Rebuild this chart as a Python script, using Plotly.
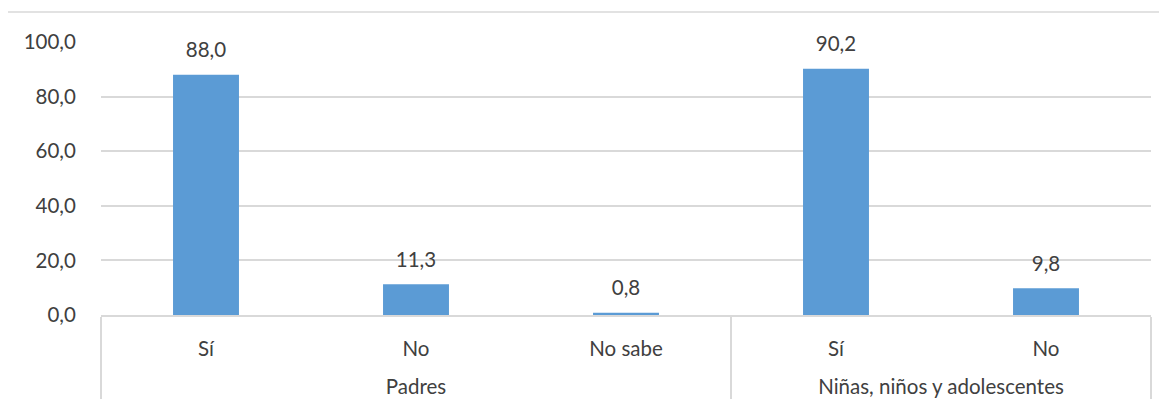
import plotly.graph_objects as go

groups = ["Padres", "Padres", "Padres", "Niñas, niños y adolescentes", "Niñas, niños y adolescentes"]
categories = ["Sí", "No", "No sabe", "Sí", "No"]
values = [88.0, 11.3, 0.8, 90.2, 9.8]
labels = ["88,0", "11,3", "0,8", "90,2", "9,8"]
y_ticks = [0, 20, 40, 60, 80, 100]

FONT = "Lato"
TXT = "#404040"
GRID = "#d9d9d9"
FS = 20.5

group_disp = ["<br>" + g for g in groups]

fig = go.Figure()
fig.add_trace(go.Bar(
    x=[group_disp, categories], y=values,
    marker=dict(color="#5b9bd5", line=dict(width=0)),
    hoverinfo="skip",
))
fig.add_trace(go.Scatter(
    x=[group_disp, categories], y=values, mode="markers+text",
    text=labels, textposition="top center",
    marker=dict(size=18, opacity=0),
    textfont=dict(family=FONT, size=FS, color=TXT),
    cliponaxis=False,
    hoverinfo="skip",
))

fig.update_layout(
    width=1167, height=415,
    margin=dict(l=93, r=24, t=34, b=108),
    paper_bgcolor="white", plot_bgcolor="white",
    showlegend=False,
    bargap=0.686,
    separators=",.",
    font=dict(family=FONT, size=FS, color=TXT),
    shapes=[dict(type="rect", xref="paper", yref="paper",
                 x0=-0.0895, x1=1.05, y0=-0.5, y1=1.1099,
                 line=dict(color=GRID, width=1.5), layer="below")],
)
fig.update_xaxes(
    type="multicategory", automargin=False,
    showline=True, linecolor=GRID, linewidth=2,
    showdividers=True, dividercolor=GRID, dividerwidth=2,
    ticks="", ticklabelstandoff=14,
    showgrid=False,
    tickfont=dict(family=FONT, size=FS, color=TXT),
)
fig.update_yaxes(
    range=[0, 100], tickvals=y_ticks, tickformat=".1f", automargin=False,
    showgrid=True, gridcolor=GRID, gridwidth=1.5,
    zeroline=False, showline=False,
    ticks="outside", ticklen=20, tickcolor="rgba(0,0,0,0)",
    tickfont=dict(family=FONT, size=FS, color=TXT),
)

fig.write_html("out.html")
